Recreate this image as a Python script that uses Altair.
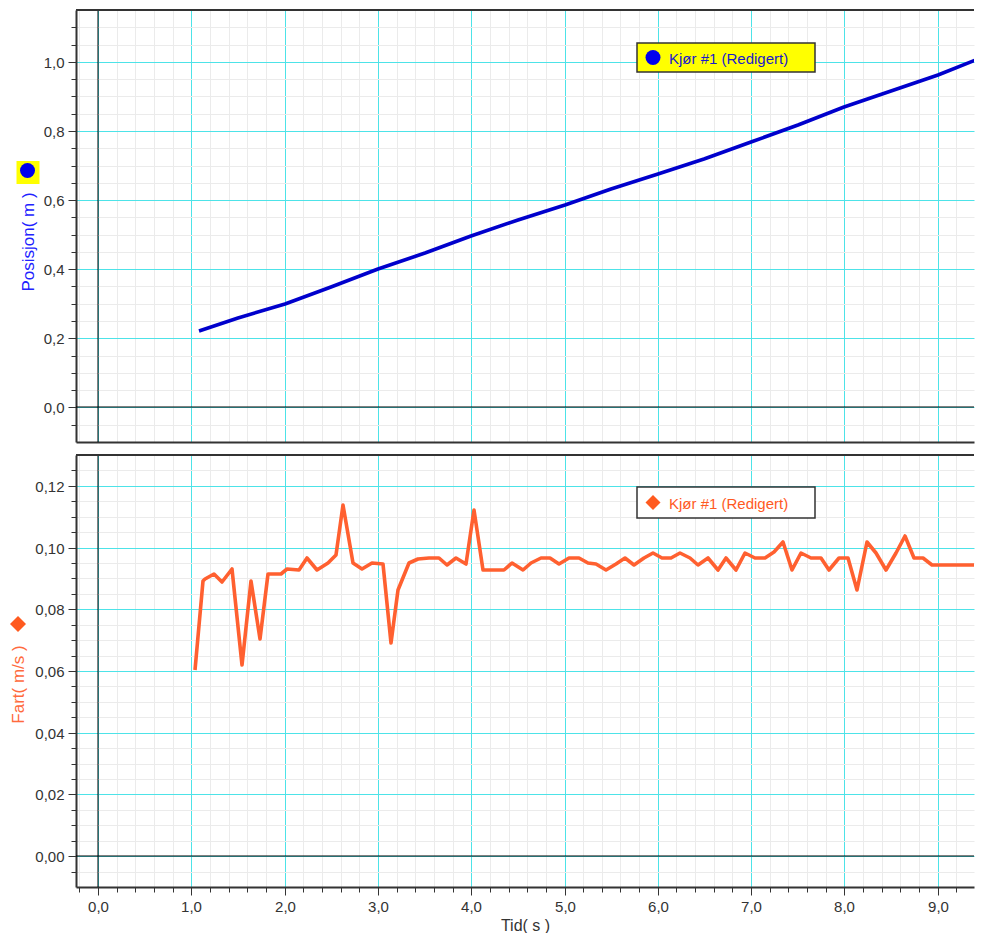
import altair as alt
import pandas as pd

# ---------------- data ----------------
T_POS = [1.08, 1.5, 2.0, 2.5, 3.0, 3.5, 4.0, 4.5, 5.0, 5.5, 6.0, 6.5, 7.0, 7.5, 8.0, 8.5, 9.0, 9.49]
POS = [0.222, 0.259, 0.298, 0.349, 0.400, 0.446, 0.496, 0.542, 0.585, 0.633, 0.676, 0.719,
       0.767, 0.818, 0.868, 0.916, 0.962, 1.013]

T_VEL = [1.04, 1.12, 1.15, 1.24, 1.33, 1.44, 1.54, 1.64, 1.74, 1.82, 1.96, 2.03, 2.15, 2.24,
         2.35, 2.46, 2.55, 2.63, 2.73, 2.83, 2.94, 3.05, 3.14, 3.22, 3.33, 3.43, 3.55, 3.65,
         3.74, 3.84, 3.94, 4.03, 4.13, 4.35, 4.44, 4.55, 4.64, 4.75, 4.84, 4.94, 5.05, 5.15,
         5.25, 5.34, 5.44, 5.55, 5.65, 5.75, 5.85, 5.95, 6.04, 6.14, 6.24, 6.34, 6.43, 6.54,
         6.65, 6.73, 6.84, 6.93, 7.04, 7.15, 7.25, 7.34, 7.44, 7.53, 7.64, 7.75, 7.84, 7.94,
         8.04, 8.14, 8.24, 8.34, 8.45, 8.55, 8.65, 8.75, 8.84, 8.94, 9.49]
VEL = [0.0602, 0.0893, 0.0898, 0.0915, 0.0890, 0.0930, 0.0620, 0.0893, 0.0704, 0.0914, 0.0915,
       0.0930, 0.0928, 0.0965, 0.0926, 0.0949, 0.0976, 0.1137, 0.0949, 0.0930, 0.0949, 0.0947,
       0.0691, 0.0863, 0.0949, 0.0963, 0.0965, 0.0965, 0.0944, 0.0965, 0.0946, 0.1121, 0.0928,
       0.0928, 0.0949, 0.0928, 0.0949, 0.0965, 0.0965, 0.0947, 0.0965, 0.0965, 0.0949, 0.0947,
       0.0928, 0.0947, 0.0965, 0.0944, 0.0965, 0.0984, 0.0965, 0.0965, 0.0984, 0.0965, 0.0944,
       0.0965, 0.0928, 0.0965, 0.0928, 0.0984, 0.0965, 0.0965, 0.0987, 0.1017, 0.0928, 0.0984,
       0.0965, 0.0965, 0.0928, 0.0965, 0.0965, 0.0863, 0.1019, 0.0984, 0.0928, 0.0984, 0.1037,
       0.0965, 0.0965, 0.0944, 0.0944]

X_TICKS = [round(0.2 * k, 4) for k in range(-1, 48)]        # -0.2 .. 9.4
Y_TOP_TICKS = [round(0.05 * k, 4) for k in range(-1, 23)]   # -0.05 .. 1.10
Y_BOT_TICKS = [round(0.005 * k, 4) for k in range(-1, 26)]  # -0.005 .. 0.125

W = 898
H = 432
X_DOMAIN = [-0.236, round(-0.236 + W / 93.3, 3)]
Y_TOP_DOMAIN = [-0.1, 1.15]
Y_BOT_DOMAIN = [-0.01, 0.13]

X_TITLE = "Tid( s )"
Y_TOP_TITLE = "Posisjon( m )"
Y_BOT_TITLE = "Fart( m/s )"
LEGEND_LABEL = "Kjør #1 (Redigert)"

# ---------------- styling ----------------
FONT = "Liberation Sans"
CYAN = "#4de3e8"
MINOR = "#ebebeb"
FRAME = "#333333"
BLUE_LINE = "#0000cc"
BLUE_TXT = "#2222ff"
ORANGE_LINE = "#ff6030"
ORANGE_TXT = "#ff6a3d"

pos_df = pd.DataFrame({"t": T_POS, "p": POS})
vel_df = pd.DataFrame({"t": T_VEL, "v": VEL})
one = pd.DataFrame({"a": [0]})


def major_test(mult):
    return f"abs(datum.value*{mult} - round(datum.value*{mult})) < 1e-6"


def label_expr(mult, fmt):
    return (f"{major_test(mult)} ? replace(format(datum.value, '{fmt}'), '.', ',') : ''")


def x_axis(show_labels):
    common = dict(
        values=X_TICKS,
        grid=True,
        gridColor={"condition": {"test": major_test(1), "value": CYAN}, "value": MINOR},
        gridWidth=1,
        domain=True, domainColor=FRAME, domainWidth=2,
    )
    if show_labels:
        return alt.Axis(
            **common,
            ticks=True, tickColor=FRAME, tickWidth=1,
            tickSize={"condition": {"test": major_test(1), "value": 8}, "value": 5},
            labelExpr=label_expr(1, ".1f"),
            labelFont=FONT, labelFontSize=15, labelColor="#333333", labelPadding=4,
            labelOverlap=False, labelFlush=False,
            title=X_TITLE, titleFont=FONT, titleFontSize=16, titleFontWeight="normal",
            titleColor="#333333", titlePadding=3,
        )
    return alt.Axis(**common, ticks=False, labels=False, title=None)


def y_axis(values, mult, fmt, title, color, tx, ty):
    return alt.Axis(
        values=values,
        grid=True,
        gridColor={"condition": {"test": major_test(mult), "value": CYAN}, "value": MINOR},
        gridWidth=1,
        domain=True, domainColor=FRAME, domainWidth=2,
        ticks=True, tickColor=FRAME, tickWidth=1,
        tickSize={"condition": {"test": major_test(mult), "value": 8}, "value": 5},
        labelExpr=label_expr(mult, fmt),
        labelFont=FONT, labelFontSize=15, labelColor="#333333", labelPadding=4,
        labelOverlap=False, labelFlush=False,
        title=title, titleFont=FONT, titleFontSize=17, titleFontWeight="normal",
        titleColor=color, titleX=tx, titleY=ty, titleAngle=270,
        titleAlign="center", titleBaseline="middle",
    )


def panel(df, yfield, y_domain, xaxis, yaxis, line_color):
    xs = alt.Scale(domain=X_DOMAIN, nice=False, zero=False, round=True)
    ys = alt.Scale(domain=y_domain, nice=False, zero=False, round=True)
    line = alt.Chart(df).mark_line(color=line_color, strokeWidth=3.6, strokeJoin="round",
                                   clip=True).encode(
        x=alt.X("t:Q", scale=xs, axis=xaxis),
        y=alt.Y(f"{yfield}:Q", scale=ys, axis=yaxis),
    )
    zero_h = alt.Chart(one).mark_rule(color="black", strokeWidth=1).encode(
        y=alt.YDatum(0, scale=ys, axis=yaxis))
    zero_v = alt.Chart(one).mark_rule(color="black", strokeWidth=1).encode(
        x=alt.XDatum(0, scale=xs, axis=xaxis))
    top = alt.Chart(one).mark_rule(color=FRAME, strokeWidth=2).encode(
        x=alt.value(0), x2=alt.value(W), y=alt.value(0))
    return [line, zero_h, zero_v, top]


def legend_layers(fill, sym_shape, sym_color, txt_color, y0, y1):
    box = alt.Chart(one).mark_rect(fill=fill, stroke=FRAME, strokeWidth=1.5).encode(
        x=alt.value(561), x2=alt.value(739), y=alt.value(y0), y2=alt.value(y1))
    sym = alt.Chart(one).mark_point(shape=sym_shape, filled=True, color=sym_color, size=225,
                                    opacity=1).encode(
        x=alt.value(577), y=alt.value((y0 + y1) / 2))
    txt = alt.Chart(one).mark_text(text=LEGEND_LABEL, font=FONT, fontSize=15, color=txt_color,
                                   align="left", baseline="middle").encode(
        x=alt.value(593), y=alt.value((y0 + y1) / 2 + 1))
    return [box, sym, txt]


# ---------------- top panel ----------------
top_layers = panel(pos_df, "p", Y_TOP_DOMAIN, x_axis(False),
                   y_axis(Y_TOP_TICKS, 5, ".1f", Y_TOP_TITLE, BLUE_TXT, -48, 231.5), BLUE_LINE)
top_sq = alt.Chart(one).mark_point(shape="square", filled=True, color="#ffff00", size=529,
                                   opacity=1).encode(x=alt.value(-48), y=alt.value(162.5))
top_dot = alt.Chart(one).mark_point(shape="circle", filled=True, color="#0000ee", size=225,
                                    opacity=1).encode(x=alt.value(-48.5), y=alt.value(160.5))

top_chart = alt.layer(
    *top_layers, top_sq, top_dot,
    *legend_layers("#ffff00", "circle", "#0000ee", "#1a1acc", 33, 62),
).properties(width=W, height=H)

# ---------------- bottom panel ----------------
bot_layers = panel(vel_df, "v", Y_BOT_DOMAIN, x_axis(True),
                   y_axis(Y_BOT_TICKS, 50, ".2f", Y_BOT_TITLE, ORANGE_TXT, -58, 229), ORANGE_LINE)
bot_dia = alt.Chart(one).mark_point(shape="diamond", filled=True, color="#ff5a1f", size=256,
                                    opacity=1).encode(x=alt.value(-58), y=alt.value(169))

bot_chart = alt.layer(
    *bot_layers, bot_dia,
    *legend_layers("#ffffff", "diamond", "#ff5a1f", "#ff5a1f", 32, 63),
).properties(width=W, height=H)

chart = alt.vconcat(top_chart, bot_chart, spacing=11).properties(
    padding={"left": 1, "top": 1, "right": 0, "bottom": 0},
    background="white",
).configure_view(stroke=None)

chart.save("out.html", embed_options={"renderer": "svg", "actions": False})
